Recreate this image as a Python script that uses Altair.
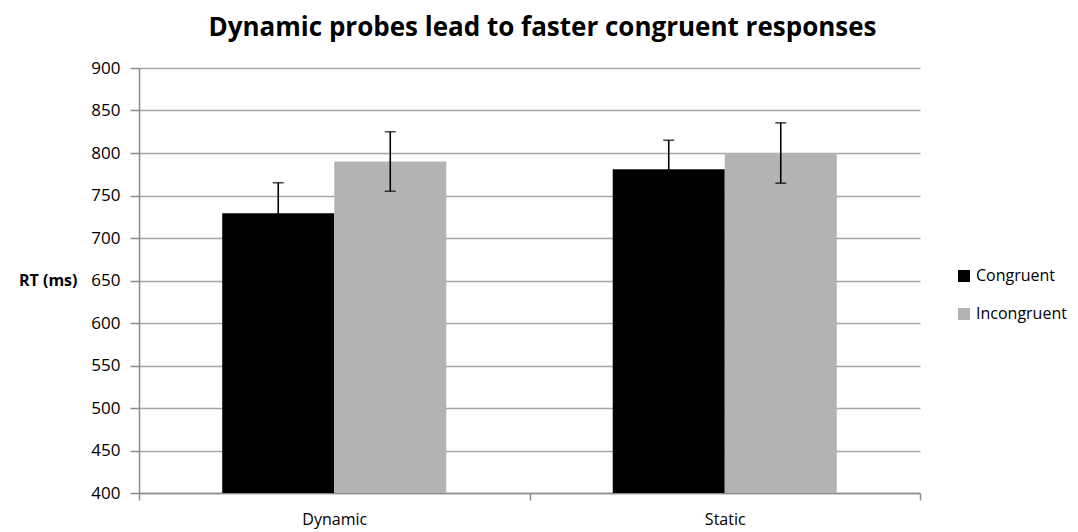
import altair as alt
import pandas as pd

groups = ["Dynamic", "Dynamic", "Static", "Static"]
conditions = ["Congruent", "Incongruent", "Congruent", "Incongruent"]
means = [729, 790, 781, 800]
errors = [36, 35, 34, 35.5]

df = pd.DataFrame({
    "group": groups,
    "condition": conditions,
    "rt": means,
    "lo": [m - e for m, e in zip(means, errors)],
    "hi": [m + e for m, e in zip(means, errors)],
})

FONT = "Open Sans"

x = alt.X("group:N", title=None, sort=["Dynamic", "Static"],
          scale=alt.Scale(paddingInner=0, paddingOuter=0),
          axis=alt.Axis(labelAngle=0, labelFontSize=16, labelColor="#000000",
                        labelPadding=11, tickBand="extent", tickSize=7,
                        tickColor="#8c8c8c", tickWidth=1.5,
                        domainColor="#8c8c8c", domainWidth=1.5, grid=False))
xo = alt.XOffset("condition:N", sort=["Congruent", "Incongruent"],
                 scale=alt.Scale(paddingInner=0, paddingOuter=0.743))

y_scale = alt.Scale(domain=[400, 900], nice=False, zero=False)

bars = alt.Chart(df).mark_bar(opacity=1).encode(
    x=x,
    xOffset=xo,
    y=alt.Y("rt:Q", scale=y_scale, title="RT (ms)",
            axis=alt.Axis(values=list(range(400, 901, 50)), labelFontSize=17,
                          labelColor="#000000", labelPadding=10, tickSize=9,
                          tickColor="#8c8c8c", tickWidth=1.5,
                          domainColor="#8c8c8c", domainWidth=1.5,
                          gridColor="#a6a6a6", gridWidth=1.5,
                          titleAngle=0, titleAlign="right", titleBaseline="middle",
                          titleX=-62, titleY=212, titleFontSize=16,
                          titleFontWeight="bold", titleColor="#000000")),
    y2=alt.Y2(datum=400),
    color=alt.Color("condition:N", title=None,
                    scale=alt.Scale(domain=["Congruent", "Incongruent"],
                                    range=["#000000", "#b3b3b3"]),
                    legend=alt.Legend(orient="none", legendX=817, legendY=200,
                                      symbolType="square", symbolSize=144,
                                      symbolStrokeWidth=0, labelFontSize=16,
                                      labelColor="#000000", labelOffset=4,
                                      rowPadding=22, labelLimit=200)),
)

rules = alt.Chart(df).mark_rule(color="#000000", strokeWidth=1.6).encode(
    x=x, xOffset=xo,
    y=alt.Y("lo:Q", scale=y_scale), y2="hi:Q",
)
caps_hi = alt.Chart(df).mark_tick(color="#000000", size=11, thickness=1.6,
                                  orient="horizontal").encode(
    x=x, xOffset=xo, y=alt.Y("hi:Q", scale=y_scale))
caps_lo = alt.Chart(df).mark_tick(color="#000000", size=11, thickness=1.6,
                                  orient="horizontal").encode(
    x=x, xOffset=xo, y=alt.Y("lo:Q", scale=y_scale))

chart = alt.layer(bars, rules, caps_hi, caps_lo).properties(
    width=781, height=425,
    title=alt.TitleParams("Dynamic probes lead to faster congruent responses",
                          fontSize=26, fontWeight="bold", font=FONT,
                          color="#000000", anchor="middle", dx=13, offset=18),
    autosize=alt.AutoSizeParams(type="none"),
    padding={"left": 131, "top": 60, "right": 150, "bottom": 39},
).configure(font=FONT).configure_view(stroke=None).configure_axis(
    labelFont=FONT, titleFont=FONT
).configure_legend(labelFont=FONT)

chart.save("out.html", embed_options={"renderer": "svg", "actions": False})
